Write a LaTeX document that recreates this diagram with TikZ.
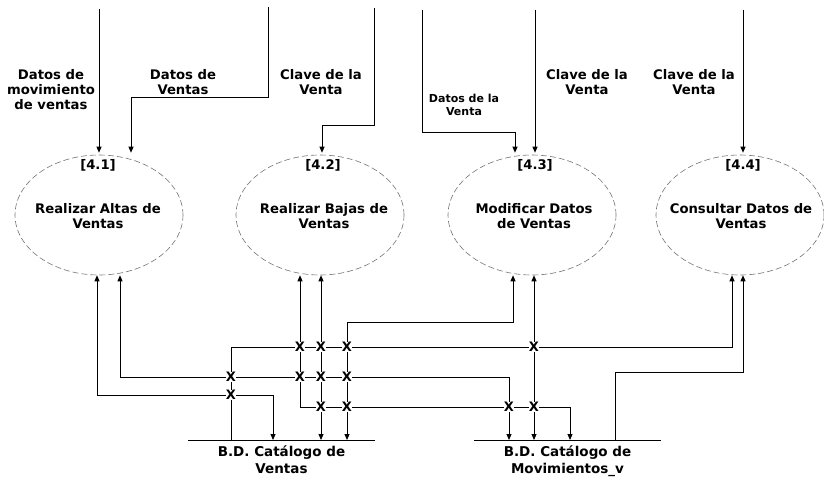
\documentclass[tikz,border=0pt]{standalone}
\usepackage{fontspec}
\setmainfont{DejaVu Sans}
\usetikzlibrary{shapes.geometric,arrows.meta,calc}
\begin{document}
\begin{tikzpicture}[x=1pt,y=-1pt,
  tip/.style={-{Triangle[length=6pt,width=5pt]}},
  flow/.style={line width=0.9pt, draw=black, -{Triangle[length=6pt,width=5pt]}},
  bflow/.style={line width=0.9pt, draw=black, {Triangle[length=6pt,width=5pt]}-{Triangle[length=6pt,width=5pt]}},
  proc/.style={ellipse, draw=black!55, line width=0.6pt, dash pattern=on 6pt off 3pt, minimum width=168pt, minimum height=120pt, inner sep=0pt},
  ptext/.style={font=\fontsize{13.2}{15}\selectfont\bfseries, align=center, inner sep=0pt},
  lbl/.style={font=\fontsize{13.2}{15}\selectfont\bfseries, align=center, inner sep=0pt},
  slbl/.style={font=\fontsize{11}{13}\selectfont\bfseries, align=center, inner sep=0pt},
  pid/.style={font=\fontsize{13.2}{15}\selectfont\bfseries, inner sep=0pt},
  store/.style={font=\fontsize{13.5}{17}\selectfont\bfseries, align=center, minimum width=186pt, inner xsep=0pt, inner ysep=5pt, anchor=north},
  storeline/.style={line width=0.7pt, draw=black},
  cross/.style={font=\fontsize{13}{13}\selectfont\bfseries, fill=white, inner sep=0.2pt}
]
\useasboundingbox (0,0) rectangle (824,477);

% processes
\node[proc] (p1) at (99,215) {};
\node[proc] (p2) at (320,215) {};
\node[proc] (p3) at (532,215) {};
\node[proc] (p4) at (740,215) {};
\node[ptext] (t1) at (98,216) {Realizar Altas de\\Ventas};
\node[ptext] (t2) at (324,216) {Realizar Bajas de\\Ventas};
\node[ptext] (t3) at (534,216) {Modificar Datos\\de Ventas};
\node[ptext] (t4) at (741,216) {Consultar Datos de\\Ventas};
\node[pid] (id1) at (98,165) {[4.1]};
\node[pid] (id2) at (323,165) {[4.2]};
\node[pid] (id3) at (535,165) {[4.3]};
\node[pid] (id4) at (743,165) {[4.4]};

% stores
\node[store] (s1) at (281.5,440) {B.D. Catálogo de\\Ventas};
\node[store] (s2) at (567.5,440) {B.D. Catálogo de\\Movimientos\_v};
\draw[storeline] (s1.north west) -- (s1.north east);
\draw[storeline] (s2.north west) -- (s2.north east);

% incoming labels
\node[lbl] (n1) at (51,90) {Datos de\\movimiento\\de ventas};
\node[lbl] (n2) at (183,82) {Datos de\\Ventas};
\node[lbl] (n3) at (321,82) {Clave de la\\Venta};
\node[slbl] (n4) at (464,105) {Datos de la\\Venta};
\node[lbl] (n5) at (587,82) {Clave de la\\Venta};
\node[lbl] (n6) at (694,82) {Clave de la\\Venta};

% incoming free ends
\coordinate (i1) at (99,9);
\coordinate (i2) at (268,7);
\coordinate (i3) at (374,8);
\coordinate (i4) at (422,10);
\coordinate (i5) at (535,10);
\coordinate (i6) at (743,10);

\draw[flow] (i1) -- ($(p1.north)+(0,-2)$);
\draw[flow] (i2) -- (268,97) -| ($(p1.north)+(32,-2)$);
\draw[flow] (i3) -- (374,125) -| ($(p2.north)+(2,-2)$);
\draw[flow] (i4) -- (422,132) -| ($(p3.north)+(-17,-2)$);
\draw[flow] (i5) -- ($(p3.north)+(3,-2)$);
\draw[flow] (i6) -- ($(p4.north)+(3,-2)$);

% lower network
\draw[bflow] ($(p1.south)+(-2,0)$) -- (97,395) -- (273,395) -- ($(s1.north)+(-8.5,0)$);
\draw[bflow] ($(p1.south)+(21,0)$) -- (120,377) -- (509,377) -- ($(s2.north)+(-58.5,0)$);
\draw[bflow] ($(p2.south)+(-20,0)$) -- (300,407) -- (570,407) -- ($(s2.north)+(2.5,0)$);
\draw[bflow] ($(p2.south)+(1,0)$) -- ($(s1.north)+(39.5,0)$);
\draw[bflow] ($(p3.south)+(-19,0)$) -- (513,322) -- (347,322) -- ($(s1.north)+(65.5,0)$);
\draw[bflow] ($(p3.south)+(2,0)$) -- ($(s2.north)+(-33.5,0)$);
\draw[flow] ($(s1.north)+(-50.5,0)$) -- (231,347) -- (732,347) -- ($(p4.south)+(-8,0)$);
\draw[flow] ($(s2.north)+(47.5,0)$) -- (615,372) -- (743,372) -- ($(p4.south)+(3,0)$);

% crossing marks
\node[cross] (x1) at (231,377) {X};
\node[cross] (x2) at (231,395) {X};
\node[cross] (x3) at (300,347) {X};
\node[cross] (x4) at (300,377) {X};
\node[cross] (x5) at (321,347) {X};
\node[cross] (x6) at (321,377) {X};
\node[cross] (x7) at (321,407) {X};
\node[cross] (x8) at (347,347) {X};
\node[cross] (x9) at (347,377) {X};
\node[cross] (x10) at (347,407) {X};
\node[cross] (x11) at (534,347) {X};
\node[cross] (x12) at (509,407) {X};
\node[cross] (x13) at (534,407) {X};
\end{tikzpicture}
\end{document}
